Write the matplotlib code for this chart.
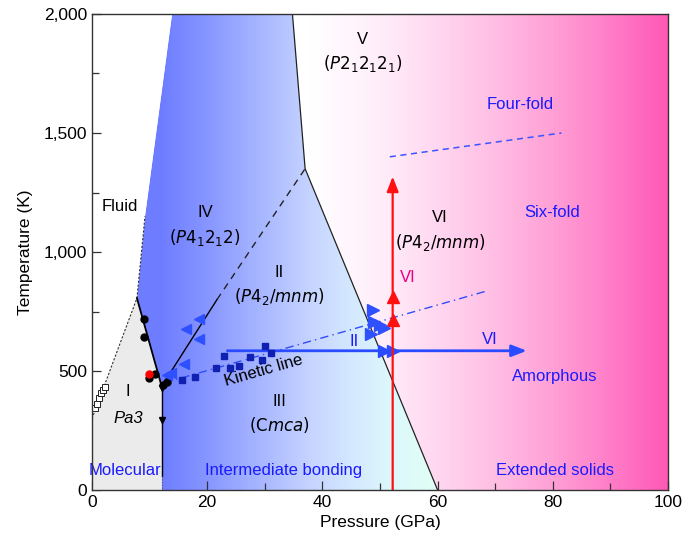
import numpy as np
import matplotlib
matplotlib.use('Agg')
import matplotlib.pyplot as plt
from matplotlib.patches import Polygon
from matplotlib.ticker import FuncFormatter, MultipleLocator

FONT = ['Liberation Sans Narrow', 'Liberation Sans', 'DejaVu Sans']
plt.rcParams['font.family'] = FONT
plt.rcParams['mathtext.fontset'] = 'custom'
plt.rcParams['mathtext.rm'] = 'Liberation Sans Narrow'
plt.rcParams['mathtext.it'] = 'Liberation Sans Narrow:italic'

# ---------------- data ----------------
# phase boundaries (P in GPa, T in K)
melt_P = [0.0, 2.5, 7.8, 9.2]
melt_T = [300, 462, 806, 1150]
phaseI_P = [7.8, 12.1]
phaseI_T = [806, 435]
vert_P = [12.1, 12.1]
vert_T = [435, 60]
vert_dot_T = [60, 0]
blue_edge_P = [9.2, 13.9]
blue_edge_T = [1150, 2000]
V_bound_P = [34.8, 37.0, 60.0]
V_bound_T = [2000, 1350, 0]
IV_II_solid_P = [12.2, 21.7]
IV_II_solid_T = [440, 800]
IV_II_dash_P = [21.7, 37.0]
IV_II_dash_T = [800, 1350]
kinetic_P = [12.5, 68.5]
kinetic_T = [450, 836]
fourfold_P = [51.7, 81.5]
fourfold_T = [1400, 1500]

# experimental points
open_sq_P = [0.6, 0.9, 1.2, 1.55, 1.9, 2.3]
open_sq_T = [345, 361, 386, 407, 420, 432]
black_dot_P = [9.0, 9.0, 11.0, 9.95, 13.0, 12.3]
black_dot_T = [718, 643, 487, 470, 454, 441]
red_dot_P = [9.95]
red_dot_T = [489]
down_tri_P = [12.1, 12.1]
down_tri_T = [430, 294]
navy_sq_P = [15.6, 17.8, 21.6, 22.9, 24.0, 25.5, 27.4, 29.5, 30.0, 31.1]
navy_sq_T = [462, 476, 514, 564, 514, 521, 560, 546, 605, 574]
left_tri_P = [18.6, 16.3, 18.5, 15.9, 13.8, 13.0]
left_tri_T = [717, 676, 633, 529, 490, 483]
right_tri_P = [48.7, 49.0, 50.0, 50.7, 48.5]
right_tri_T = [755, 705, 695, 680, 655]

# arrows
harrow_P = [23.5, 75.5]
harrow_T = 585
harrow_heads_P = [50.7, 52.3]
varrow_P = 52.2
varrow_T = [0, 1317]
varrow_heads_T = [714, 812]

# gradient colour stops (P, rgb)
blue_stops_P = [12, 20, 30, 38, 45, 52, 60]
blue_stops_rgb = [(110, 125, 255), (135, 150, 255), (170, 185, 255), (198, 212, 255),
                  (212, 232, 255), (220, 248, 252), (225, 255, 245)]
pink_stops_P = [0, 38, 50, 60, 70, 80, 90, 100]
pink_stops_rgb = [(255, 255, 255), (255, 255, 255), (255, 238, 250), (255, 215, 240),
                  (255, 190, 228), (255, 160, 214), (255, 125, 200), (255, 88, 182)]

# ---------------- figure ----------------
fig = plt.figure(figsize=(6.82, 5.44), dpi=100)
ax = fig.add_axes([92/682, 1-490/544, (668-92)/682, (490-14)/544])
ax.set_xlim(0, 100)
ax.set_ylim(0, 2000)


def grad_img(stops_P, stops_rgb):
    xs = np.linspace(0, 100, 800)
    arr = np.array(stops_rgb, dtype=float) / 255.0
    cols = np.stack([np.interp(xs, stops_P, arr[:, i]) for i in range(3)], axis=-1)
    return np.repeat(cols[np.newaxis, :, :], 2, axis=0)

ax.imshow(grad_img(pink_stops_P, pink_stops_rgb), extent=[0, 100, 0, 2000],
          aspect='auto', origin='lower', zorder=0, interpolation='bilinear')

blue_poly_xy = list(zip([12.1, 12.1] + phaseI_P[::-1][1:] + [9.2, 13.9] + V_bound_P,
                        [0, 435] + phaseI_T[::-1][1:] + [1150, 2000] + V_bound_T))
blue_poly = Polygon(blue_poly_xy, closed=True, facecolor='none', edgecolor='none')
ax.add_patch(blue_poly)
im = ax.imshow(grad_img(blue_stops_P, blue_stops_rgb), extent=[0, 100, 0, 2000],
               aspect='auto', origin='lower', zorder=1, interpolation='bilinear')
im.set_clip_path(blue_poly)

# white fluid region left of blue edge
fluid_xy = [(0, melt_T[0])] + list(zip(melt_P, melt_T)) + [(13.9, 2000), (0, 2000)]
ax.add_patch(Polygon(fluid_xy, closed=True, facecolor='white', edgecolor='none', zorder=1.5))

gray_xy = [(0, 0)] + list(zip(melt_P[:3], melt_T[:3])) + [(12.1, 435), (12.1, 0)]
ax.add_patch(Polygon(gray_xy, closed=True, facecolor='#ebebeb', edgecolor='none', zorder=2))

# lines
ax.plot(melt_P, melt_T, color='#333333', lw=0.8, ls=(0, (2, 1.5)), zorder=3)
ax.plot(phaseI_P, phaseI_T, color='black', lw=1.3, zorder=3)
ax.plot(vert_P, vert_T, color='black', lw=1.0, zorder=3)
ax.plot(vert_P, vert_dot_T, color='#555555', lw=0.8, ls=(0, (1, 1.5)), zorder=3)
ax.plot(V_bound_P, V_bound_T, color='#222222', lw=0.9, zorder=3)
ax.plot(IV_II_solid_P, IV_II_solid_T, color='black', lw=1.0, zorder=3)
ax.plot(IV_II_dash_P, IV_II_dash_T, color='#222222', lw=1.0, ls=(0, (5, 4)), zorder=3)
ax.plot(kinetic_P, kinetic_T, color='#2f4cff', lw=1.0, ls=(0, (6, 3, 1, 3)), zorder=3)
ax.plot(fourfold_P, fourfold_T, color='#3a55ff', lw=1.1, ls=(0, (4, 3)), zorder=3)

# arrows
ax.annotate('', xy=(harrow_P[1], harrow_T), xytext=(harrow_P[0], harrow_T),
            arrowprops=dict(arrowstyle='-|>,head_length=0.9,head_width=0.35', color='#2a4bff',
                            lw=2.0, shrinkA=0, shrinkB=0), zorder=4)
ax.plot(harrow_heads_P, [harrow_T] * len(harrow_heads_P), ls='none', marker='>',
        color='#2a4bff', ms=8, zorder=4)
ax.annotate('', xy=(varrow_P, varrow_T[1]), xytext=(varrow_P, varrow_T[0]),
            arrowprops=dict(arrowstyle='-|>,head_length=0.9,head_width=0.35', color='#ff1010',
                            lw=1.6, shrinkA=0, shrinkB=0), zorder=4)
ax.plot([varrow_P] * len(varrow_heads_T), varrow_heads_T, ls='none', marker='^',
        color='#ff1010', ms=9, zorder=4)

# points
ax.plot(open_sq_P, open_sq_T, ls='none', marker='s', mfc='white', mec='#222222', ms=4, mew=0.7, zorder=5)
ax.plot(black_dot_P, black_dot_T, ls='none', marker='o', color='black', ms=5, zorder=5)
ax.plot(red_dot_P, red_dot_T, ls='none', marker='o', color='#ff0000', ms=5, zorder=6)
ax.plot(down_tri_P, down_tri_T, ls='none', marker='v', color='black', ms=5, zorder=5)
ax.plot(navy_sq_P, navy_sq_T, ls='none', marker='s', color='#1020b0', ms=5, zorder=5)
ax.plot(left_tri_P, left_tri_T, ls='none', marker='<', color='#2f50ff', ms=7, zorder=5)
ax.plot(right_tri_P, right_tri_T, ls='none', marker='>', color='#2f50ff', ms=9, zorder=5)

# texts
K = 'black'
B = '#1a1aff'
fs = 12
ax.text(47, 1891, 'V', ha='center', va='center', fontsize=fs, color=K, zorder=7)
ax.text(47, 1794, r'$(P\mathrm{2_12_12_1})$', ha='center', va='center', fontsize=fs, color=K, zorder=7)
ax.text(60.4, 1143, 'VI', ha='center', va='center', fontsize=fs, color=K, zorder=7)
ax.text(60.4, 1038, r'$(P\mathrm{4_2}/mnm)$', ha='center', va='center', fontsize=fs, color=K, zorder=7)
ax.text(32.5, 912, 'II', ha='center', va='center', fontsize=fs, color=K, zorder=7)
ax.text(32.5, 811, r'$(P\mathrm{4_2}/mnm)$', ha='center', va='center', fontsize=fs, color=K, zorder=7)
ax.text(19.6, 1164, 'IV', ha='center', va='center', fontsize=fs, color=K, zorder=7)
ax.text(19.6, 1059, r'$(P\mathrm{4_12_12})$', ha='center', va='center', fontsize=fs, color=K, zorder=7)
ax.text(4.9, 1193, 'Fluid', ha='center', va='center', fontsize=fs, color=K, zorder=7)
ax.text(6.25, 412, 'I', ha='center', va='center', fontsize=fs, color=K, zorder=7)
ax.text(6.25, 302, 'Pa3', ha='center', va='center', fontsize=fs, color=K, style='italic', zorder=7)
ax.text(29.7, 500, 'Kinetic line', ha='center', va='center', fontsize=fs, color=K,
        rotation=16, rotation_mode='anchor', zorder=7)
ax.text(32.5, 370, 'III', ha='center', va='center', fontsize=fs, color=K, zorder=7)
ax.text(32.5, 273, r'$(\mathrm{C}mca)$', ha='center', va='center', fontsize=fs, color=K, zorder=7)
ax.text(54.9, 891, 'VI', ha='center', va='center', fontsize=fs, color='#e8007f', zorder=7)
ax.text(74.3, 1618, 'Four-fold', ha='center', va='center', fontsize=fs, color=B, zorder=7)
ax.text(79.9, 1168, 'Six-fold', ha='center', va='center', fontsize=fs, color=B, zorder=7)
ax.text(45.5, 626, 'II', ha='center', va='center', fontsize=fs, color=B, zorder=7)
ax.text(69.1, 634, 'VI', ha='center', va='center', fontsize=fs, color=B, zorder=7)
ax.text(80.4, 475, 'Amorphous', ha='center', va='center', fontsize=fs, color=B, zorder=7)
ax.text(5.7, 84, 'Molecular', ha='center', va='center', fontsize=fs, color=B, zorder=7)
ax.text(33.2, 84, 'Intermediate bonding', ha='center', va='center', fontsize=fs, color=B, zorder=7)
ax.text(80.4, 84, 'Extended solids', ha='center', va='center', fontsize=fs, color=B, zorder=7)

# axes styling
ax.xaxis.set_major_locator(MultipleLocator(20))
ax.xaxis.set_minor_locator(MultipleLocator(10))
ax.yaxis.set_major_locator(MultipleLocator(500))
ax.yaxis.set_minor_locator(MultipleLocator(250))
ax.yaxis.set_major_formatter(FuncFormatter(lambda v, p: f'{v:,.0f}'))
ax.tick_params(which='both', direction='in', top=False, right=False, labelsize=12.5,
               color='#333333', width=0.9)
ax.tick_params(which='major', length=6.5)
ax.tick_params(which='minor', length=5)
for s in ax.spines.values():
    s.set_color('#333333')
    s.set_linewidth(1.0)
    s.set_zorder(8)
ax.set_xlabel('Pressure (GPa)', fontsize=12.5, labelpad=4)
ax.set_ylabel('Temperature (K)', fontsize=12.5, labelpad=8)

fig.savefig('out.png', dpi=100)
